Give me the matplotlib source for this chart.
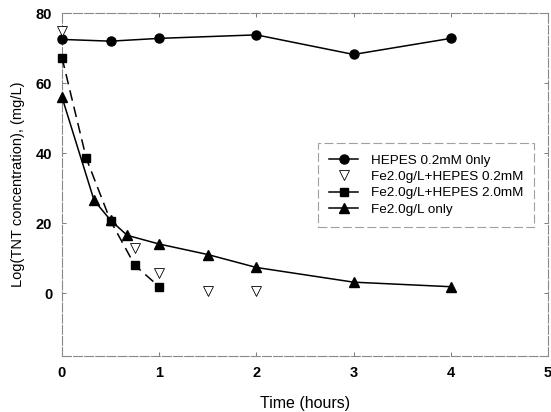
import matplotlib
matplotlib.use("Agg")
import matplotlib.pyplot as plt
from matplotlib.lines import Line2D

plt.rcParams['font.family'] = ['Liberation Sans', 'DejaVu Sans']

# Data
t_hepes = [0, 0.5, 1, 2, 3, 4]
y_hepes = [72.5, 72.0, 72.8, 73.8, 68.2, 72.8]

t_fe_h02 = [0, 0.75, 1, 1.5, 2]
y_fe_h02 = [75.0, 12.8, 5.7, 0.5, 0.5]

t_fe_h20 = [0, 0.25, 0.5, 0.75, 1]
y_fe_h20 = [67.3, 38.5, 20.6, 7.9, 1.8]

t_fe = [0, 0.33, 0.5, 0.67, 1, 1.5, 2, 3, 4]
y_fe = [56.0, 26.5, 20.8, 16.5, 14.0, 11.0, 7.3, 3.1, 1.8]

labels = ["HEPES 0.2mM 0nly", "Fe2.0g/L+HEPES 0.2mM",
          "Fe2.0g/L+HEPES 2.0mM", "Fe2.0g/L only"]
xticks = [0, 1, 2, 3, 4, 5]
yticks = [0, 20, 40, 60, 80]

fig = plt.figure(figsize=(5.51, 4.12), dpi=100)
ax = fig.add_axes([0.1125, 0.136, 0.882, 0.832])

ax.plot(t_hepes, y_hepes, color='black', lw=1.1, marker='o', ms=6.5,
        label=labels[0], zorder=3, clip_on=False)
ax.plot(t_fe_h02, y_fe_h02, color='black', lw=0, marker='v', ms=7,
        markerfacecolor='white', markeredgewidth=0.6, label=labels[1],
        zorder=4, clip_on=False)
ax.plot(t_fe_h20, y_fe_h20, color='black', lw=1.1, ls=(0, (7, 4)), marker='s',
        ms=6, label=labels[2], zorder=3, clip_on=False)
ax.plot(t_fe, y_fe, color='black', lw=1.1, marker='^', ms=6.5,
        label=labels[3], zorder=3, clip_on=False)

ax.set_xlim(0, 5)
ax.set_ylim(-18, 80)
ax.set_xticks(xticks)
ax.set_yticks(yticks)
ax.set_xticklabels([str(v) for v in xticks], fontsize=10.5, fontweight='bold')
ax.set_yticklabels([str(v) for v in yticks], fontsize=10.5, fontweight='bold')
ax.tick_params(direction='in', length=3, width=0.6, color='#666666',
               top=True, right=True, pad=7)

for s in ax.spines.values():
    s.set_color('#888888')
    s.set_linewidth(0.8)
    s.set_linestyle((0, (8, 2)))

ax.set_xlabel("Time (hours)", fontsize=11.5, labelpad=12)
ax.set_ylabel("Log(TNT concentration), (mg/L)", fontsize=10.5, labelpad=8)

handles = [
    Line2D([], [], color='black', lw=1.1, marker='o', ms=6.5),
    Line2D([], [], color='black', lw=0, marker='v', ms=6.5,
           markerfacecolor='white', markeredgewidth=0.6),
    Line2D([], [], color='black', lw=1.1, marker='s', ms=6),
    Line2D([], [], color='black', lw=1.1, marker='^', ms=6.5),
]
leg = ax.legend(handles, labels, loc='upper left',
                bbox_to_anchor=(0.513, 0.64), fontsize=9.7, frameon=True,
                fancybox=False, handlelength=2.2, handletextpad=0.9,
                borderpad=0.8, labelspacing=0.3)
leg.get_frame().set_edgecolor('#888888')
leg.get_frame().set_linewidth(0.8)
leg.get_frame().set_linestyle((0, (8, 3)))

fig.savefig("out.png", dpi=100)
